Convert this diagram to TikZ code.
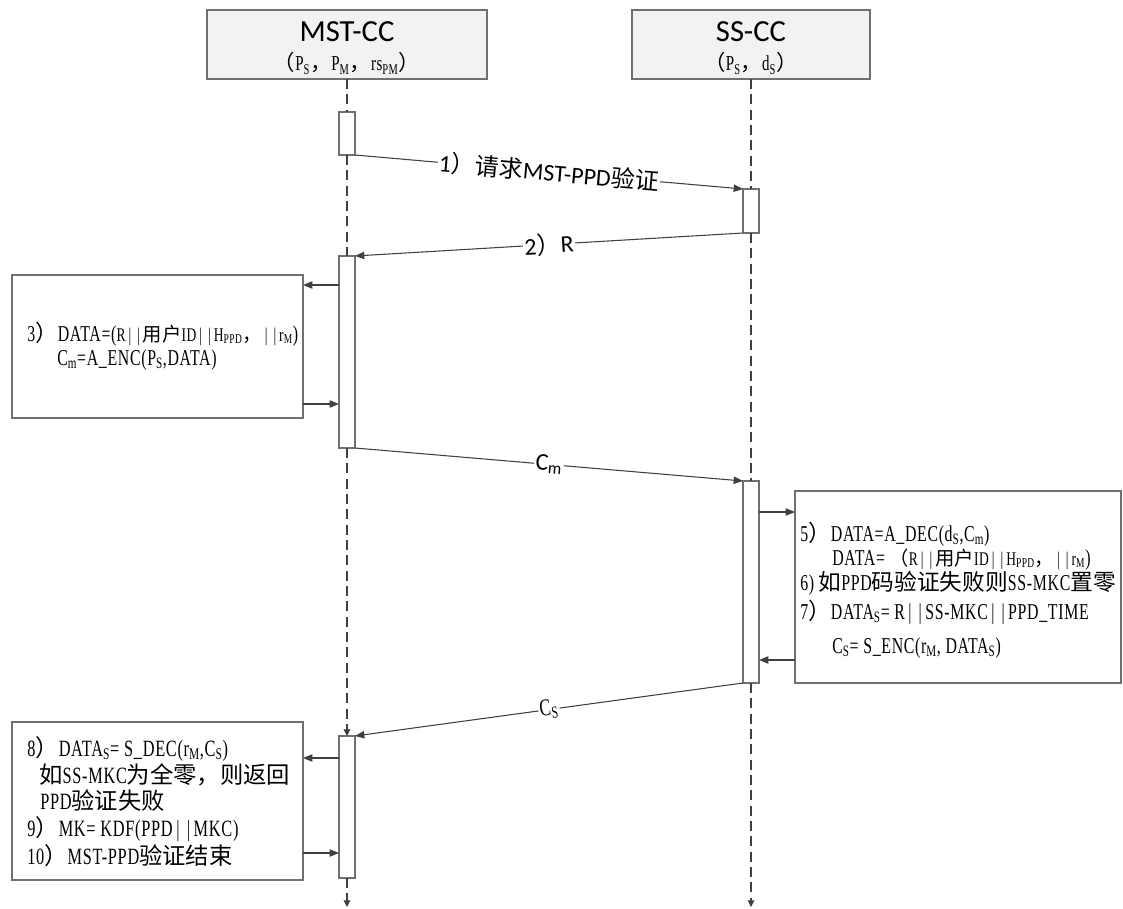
\documentclass[tikz,border=0pt]{standalone}
\usepackage{fontspec}
\setmainfont{Liberation Serif}[FakeStretch=0.7, LetterSpace=3]
\newfontfamily\cjkf{Noto Sans CJK SC}
\newfontfamily\calf{Carlito}
\usetikzlibrary{arrows.meta}
\newcommand\zh[1]{{\cjkf #1}}
\newcommand\lsub[1]{\textsubscript{#1}}
\newcommand\smtxt[1]{{\fontsize{14.5}{16}\selectfont #1}}
\newcommand\vb{\makebox[0.45em]{|}}
\definecolor{ln}{HTML}{404040}
\definecolor{bd}{HTML}{707070}
\definecolor{hdfill}{HTML}{F2F2F2}
\tikzset{
  head/.style={draw=bd, fill=hdfill, line width=0.9pt, inner sep=0pt, outer sep=0pt, anchor=north west},
  bar/.style={draw=bd, fill=white, line width=0.8pt, inner sep=0pt, outer sep=0pt, anchor=north west, minimum width=12pt},
  note/.style={draw=bd, fill=white, line width=0.8pt, inner sep=0pt, outer sep=0pt, anchor=north west},
  life/.style={draw=ln, line width=0.9pt, dash pattern=on 7.5pt off 4pt},
  lifearr/.style={life, -{Triangle[length=5pt,width=5pt]}},
  msg/.style={draw=ln, line width=0.8pt, -{Triangle[length=7pt,width=5.5pt]}},
  lbl/.style={fill=white, inner sep=1pt, sloped, font=\fontsize{18}{18}\selectfont},
  ttl/.style={inner sep=0pt, anchor=base, font=\calf\fontsize{23}{23}\selectfont},
  subt/.style={inner sep=0pt, anchor=base, font=\fontsize{16}{16}\selectfont},
  txt/.style={inner sep=0pt, anchor=base west, font=\fontsize{17}{18}\selectfont},
  txtc/.style={inner sep=0pt, anchor=base west, font=\fontsize{17.5}{19}\selectfont}
}
\begin{document}
\begin{tikzpicture}[x=0.75pt,y=-0.75pt]
\useasboundingbox (0,0) rectangle (1123,909);

% headers
\node[head, minimum width=210pt, minimum height=51.75pt] (mst) at (207,10) {};
\node[head, minimum width=178.5pt, minimum height=51.75pt] (ss) at (632,10) {};
\node[ttl] (mstt) at (347,42) {MST-CC};
\node[subt] (msts) at (347,71) {\zh{（}P\lsub{S}\zh{，}P\lsub{M}\zh{，}rs\lsub{PM}\zh{）}};
\node[ttl] (sst) at (751,42) {SS-CC};
\node[subt] (sss) at (751,71) {\zh{（}P\lsub{S}\zh{，}d\lsub{S}\zh{）}};

% activation bars
\node[bar, minimum height=32.25pt] (m1) at (339,112) {};
\node[bar, minimum height=33pt] (s1) at (743,189) {};
\node[bar, minimum height=144pt] (m2) at (339,256) {};
\node[bar, minimum height=151.5pt] (s2) at (743,481) {};
\node[bar, minimum height=106.5pt] (m4) at (339,736) {};

\coordinate (mend) at (347,907);
\coordinate (send) at (751,907);

% lifelines
\draw[life] (mst.south) -- (m1.north);
\draw[life] (m1.south) -- (m2.north);
\draw[lifearr] (m2.south) -- (m4.north);
\draw[lifearr] (m4.south) -- (mend);
\draw[life] (ss.south) -- (s1.north);
\draw[life] (s1.south) -- (s2.north);
\draw[lifearr] (s2.south) -- (send);

% messages
\draw[msg] (m1.south east) -- node[lbl] (l1) {{\calf 1}\zh{）请求}{\calf MST-PPD}\zh{验证}} (s1.north west);
\draw[msg] (s1.south west) -- node[lbl] (l2) {{\calf 2}\zh{）}{\calf R}} (m2.north east);
\draw[msg] (m2.south east) -- node[lbl] (l3) {{\calf C\lsub{m}}} (s2.north west);
\draw[msg] (s2.south west) -- node[lbl] (l4) {C\lsub{S}} (m4.north east);

% note boxes
\node[note, minimum width=218.25pt, minimum height=107.25pt] (b3) at (12,275) {};
\node[note, minimum width=244.5pt, minimum height=144pt] (b5) at (795,491) {};
\node[note, minimum width=218.25pt, minimum height=118.5pt] (b8) at (12,722) {};

\coordinate (ya) at (0,285);
\coordinate (yb) at (0,404);
\coordinate (yc) at (0,512);
\coordinate (yd) at (0,660);
\coordinate (ye) at (0,758);
\coordinate (yf) at (0,853);
\draw[msg] (m2.west |- ya) -- (b3.east |- ya);
\draw[msg] (b3.east |- yb) -- (m2.west |- yb);
\draw[msg] (s2.east |- yc) -- (b5.west |- yc);
\draw[msg] (b5.west |- yd) -- (s2.east |- yd);
\draw[msg] (m4.west |- ye) -- (b8.east |- ye);
\draw[msg] (b8.east |- yf) -- (m4.west |- yf);

% box 3 text
\node[txt] (t3a) at (27,341) {3\zh{）}DATA=(\smtxt{R\vb\vb\zh{用户}ID\vb\vb H\lsub{PPD}\zh{，}\vb\vb r\lsub{M}})};
\node[txt] (t3b) at (57,365) {C\lsub{m}=A\_ENC(P\lsub{S},DATA)};

% box 5 text
\node[txt] (t5a) at (800,541) {5\zh{）}DATA=A\_DEC(d\lsub{S},C\lsub{m})};
\node[txt] (t5b) at (832,565) {DATA=~\smtxt{\zh{（}R\vb\vb\zh{用户}ID\vb\vb H\lsub{PPD}\zh{，}\vb\vb r\lsub{M}})};
\node[txt] (t5c) at (800,590) {6)~\zh{如}PPD\zh{码验证失败则}SS-MKC\zh{置零}};
\node[txt] (t5d) at (800,619) {7\zh{）}DATA\lsub{S}=~R\vb\vb SS-MKC\vb\vb PPD\_TIME};
\node[txt] (t5e) at (832,653) {C\lsub{S}=~S\_ENC(r\lsub{M},~DATA\lsub{S})};

% box 8 text
\node[txtc] (t8a) at (27,756) {8\zh{）}DATA\lsub{S}=~S\_DEC(r\lsub{M},C\lsub{S})};
\node[txtc] (t8b) at (39,783) {\zh{如}SS-MKC\zh{为全零，则返回}};
\node[txtc] (t8c) at (40,809) {PPD\zh{验证失败}};
\node[txtc] (t8d) at (27,836) {9\zh{）}MK=~KDF(PPD\vb\vb MKC)};
\node[txtc] (t8e) at (27,864) {10\zh{）}MST-PPD\zh{验证结束}};
\end{tikzpicture}
\end{document}
